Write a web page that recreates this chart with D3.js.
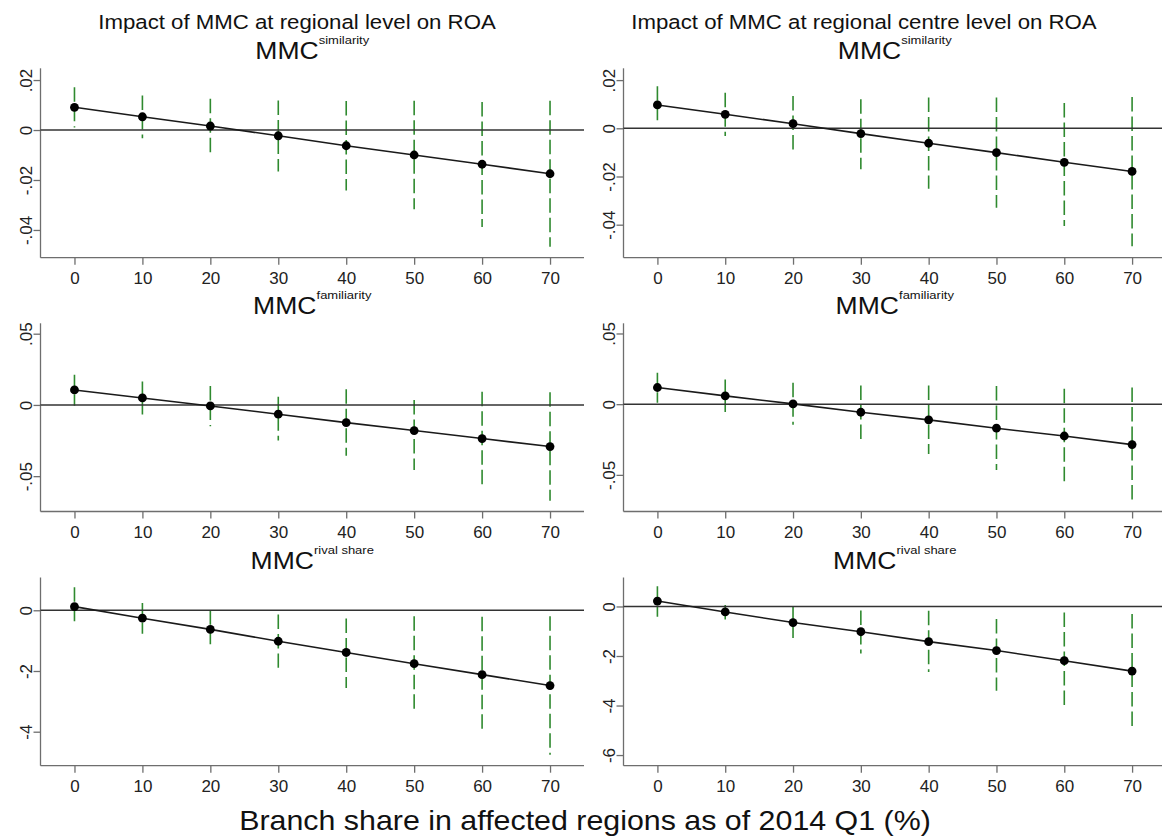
<!DOCTYPE html>
<html>
<head>
<meta charset="utf-8">
<script src="https://cdn.jsdelivr.net/npm/d3@7"></script>
<style>
  body { margin: 0; background: #fff; }
  text { font-family: "Liberation Sans", Arial, sans-serif; }
</style>
</head>
<body>
<script>
const shares = [0, 10, 20, 30, 40, 50, 60, 70];
const xTicks = [0, 10, 20, 30, 40, 50, 60, 70];

const colTitles = ['Impact of MMC at regional level on ROA', 'Impact of MMC at regional centre level on ROA'];
const rowLabels = ['similarity', 'familiarity', 'rival share'];

// regional level
const simRegEst = [0.0091, 0.0053, 0.0016, -0.0023, -0.0063, -0.0100, -0.0137, -0.0175];
const simRegLo  = [0.0010, -0.0033, -0.0097, -0.0166, -0.0242, -0.0317, -0.0388, -0.0467];
const simRegHi  = [0.0171, 0.0138, 0.0125, 0.0118, 0.0116, 0.0117, 0.0112, 0.0117];
const famRegEst = [0.0105, 0.0049, -0.0007, -0.0065, -0.0124, -0.0180, -0.0236, -0.0292];
const famRegLo  = [-0.0005, -0.0068, -0.0150, -0.0250, -0.0357, -0.0456, -0.0563, -0.0672];
const famRegHi  = [0.0212, 0.0164, 0.0133, 0.0058, 0.0110, 0.0035, 0.0093, 0.0089];
const rivRegEst = [0.12, -0.26, -0.63, -1.02, -1.39, -1.76, -2.12, -2.48];
const rivRegLo  = [-0.53, -0.77, -1.26, -1.89, -2.56, -3.31, -4.02, -4.76];
const rivRegHi  = [0.76, 0.24, 0.00, -0.14, -0.27, -0.20, -0.21, -0.20];

// regional centre level
const simCenEst = [0.0097, 0.0058, 0.0019, -0.0022, -0.0062, -0.0101, -0.0141, -0.0179];
const simCenLo  = [0.0021, -0.0032, -0.0097, -0.0170, -0.0251, -0.0330, -0.0405, -0.0490];
const simCenHi  = [0.0175, 0.0148, 0.0134, 0.0121, 0.0128, 0.0128, 0.0105, 0.0130];
const famCenEst = [0.0118, 0.0059, 0.0002, -0.0057, -0.0111, -0.0170, -0.0225, -0.0286];
const famCenLo  = [0.0010, -0.0055, -0.0145, -0.0248, -0.0352, -0.0465, -0.0577, -0.0690];
const famCenHi  = [0.0222, 0.0175, 0.0151, 0.0132, 0.0132, 0.0128, 0.0110, 0.0118];
const rivCenEst = [0.22, -0.22, -0.65, -1.02, -1.42, -1.78, -2.19, -2.61];
const rivCenLo  = [-0.42, -0.72, -1.27, -1.90, -2.65, -3.40, -4.14, -4.92];
const rivCenHi  = [0.82, 0.06, 0.00, -0.16, -0.17, -0.51, -0.24, -0.30];

const yTicksSim = [0.02, 0, -0.02, -0.04];
const yTicksFam = [0.05, 0, -0.05];
const yTicksRivReg = [0, -2, -4];
const yTicksRivCen = [0, -2, -4, -6];

const panels = [
  { col: 0, row: 0, est: simRegEst, lo: simRegLo, hi: simRegHi, dom: [-0.0511, 0.0247], ticks: yTicksSim },
  { col: 0, row: 1, est: famRegEst, lo: famRegLo, hi: famRegHi, dom: [-0.0748, 0.0573], ticks: yTicksFam },
  { col: 0, row: 2, est: rivRegEst, lo: rivRegLo, hi: rivRegHi, dom: [-5.12, 1.08], ticks: yTicksRivReg },
  { col: 1, row: 0, est: simCenEst, lo: simCenLo, hi: simCenHi, dom: [-0.0537, 0.0249], ticks: yTicksSim },
  { col: 1, row: 1, est: famCenEst, lo: famCenLo, hi: famCenHi, dom: [-0.0759, 0.0572], ticks: yTicksFam },
  { col: 1, row: 2, est: rivCenEst, lo: rivCenLo, hi: rivCenHi, dom: [-6.43, 1.17], ticks: yTicksRivCen }
];

const W = 1162, H = 839;
const colX = [[40.5, 584], [623.5, 1166]];
const rowY = [[68.3, 257.7], [323.3, 511.5], [577.5, 765.7]];
const titleX = [297, 864];
const green = '#2f8a2f';
const axisCol = '#6e6e6e';

const stataFmt = d => d === 0 ? '0' : String(d).replace(/^(-?)0\./, '$1.');

const svg = d3.select('body').append('svg')
  .attr('width', W)
  .attr('height', H);

// reference text is drawn a little wide, so stretch it horizontally
function wideText(x, y, sx) {
  return svg.append('text')
    .attr('transform', 'translate(' + x + ',' + y + ') scale(' + sx + ',1)')
    .attr('text-anchor', 'middle')
    .style('fill', '#111');
}

colTitles.forEach((t, i) => {
  wideText(titleX[i], 29, 1.14).style('font-size', '19.5px').text(t);
});

panels.forEach(p => {
  const x = d3.scaleLinear().domain([-5, 75]).range(colX[p.col]);
  const y = d3.scaleLinear().domain(p.dom).range([rowY[p.row][1], rowY[p.row][0]]);
  const g = svg.append('g');
  const cx = (colX[p.col][0] + colX[p.col][1]) / 2;

  // subtitle with superscript
  const st = wideText(cx, rowY[p.row][0] - 9, 1.13);
  st.append('tspan').style('font-size', '23.5px').text('MMC');
  st.append('tspan').attr('dy', -15).style('font-size', '11.5px').text(rowLabels[p.row]);

  // axes
  const xAxis = g.append('g')
    .attr('transform', 'translate(0,' + rowY[p.row][1] + ')')
    .call(d3.axisBottom(x).tickValues(xTicks).tickSize(7).tickPadding(7).tickFormat(d3.format('d')));
  const yAxis = g.append('g')
    .attr('transform', 'translate(' + colX[p.col][0] + ',0)')
    .call(d3.axisLeft(y).tickValues(p.ticks).tickSize(7).tickPadding(9).tickFormat(stataFmt));
  [xAxis, yAxis].forEach(a => {
    a.select('.domain').attr('stroke', axisCol).attr('stroke-width', 1.3);
    a.selectAll('.tick line').attr('stroke', axisCol).attr('stroke-width', 1.3);
    a.selectAll('.tick text').style('font-size', '17px').style('fill', '#222')
      .style('font-family', '"Liberation Sans", Arial, sans-serif');
  });
  xAxis.select('.domain').attr('d', 'M' + colX[p.col][0] + ',0H' + colX[p.col][1]);
  yAxis.select('.domain').attr('d', 'M0,' + rowY[p.row][0] + 'V' + rowY[p.row][1]);
  yAxis.selectAll('.tick text')
    .attr('transform', 'rotate(-90)')
    .attr('x', 0).attr('dy', 0).attr('y', -9)
    .attr('text-anchor', 'middle');

  // CIs
  g.selectAll('line.ci').data(shares).enter().append('line')
    .attr('class', 'ci')
    .attr('x1', d => x(d)).attr('x2', d => x(d))
    .attr('y1', (d, i) => y(p.hi[i])).attr('y2', (d, i) => y(p.lo[i]))
    .attr('stroke', green).attr('stroke-width', 1.6)
    .attr('stroke-dasharray', '14.5,5');

  // zero line
  g.append('line')
    .attr('x1', colX[p.col][0]).attr('x2', colX[p.col][1])
    .attr('y1', y(0)).attr('y2', y(0))
    .attr('stroke', '#333').attr('stroke-width', 1.4);

  // estimate line + points
  g.append('path')
    .datum(shares)
    .attr('d', d3.line().x(d => x(d)).y((d, i) => y(p.est[i])))
    .attr('fill', 'none').attr('stroke', '#1a1a1a').attr('stroke-width', 1.6);
  g.selectAll('circle').data(shares).enter().append('circle')
    .attr('cx', d => x(d)).attr('cy', (d, i) => y(p.est[i]))
    .attr('r', 4.4).attr('fill', '#000');
});

wideText(585, 830, 1.085).style('font-size', '28px')
  .text('Branch share in affected regions as of 2014 Q1 (%)');
</script>
</body>
</html>
